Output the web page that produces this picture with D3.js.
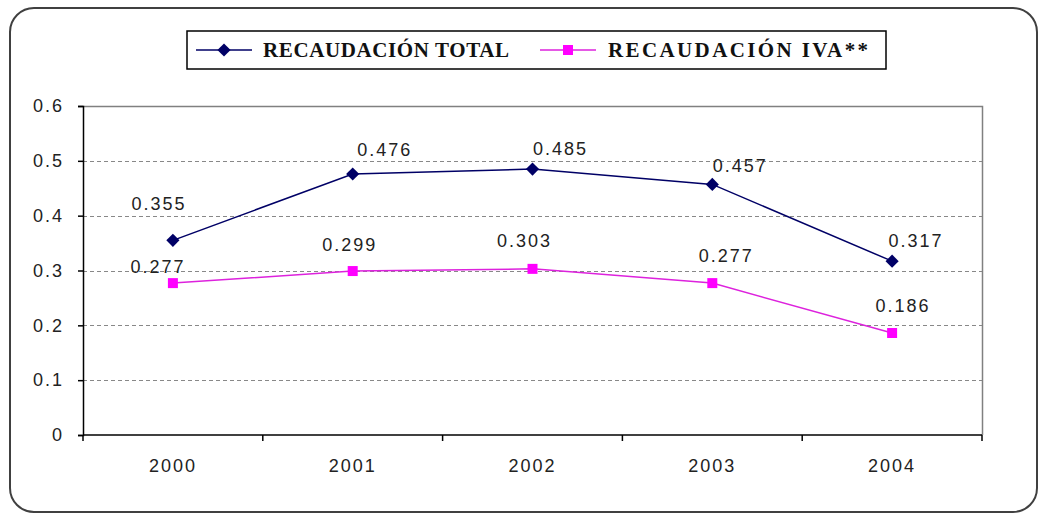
<!DOCTYPE html>
<html>
<head>
<meta charset="utf-8">
<script src="https://cdn.jsdelivr.net/npm/d3@7"></script>
<style>
  body { margin: 0; background: #fff; }
  svg { display: block; }
</style>
</head>
<body>
<div id="chart"></div>
<script>
//Chart data
const YEARS = ["2000", "2001", "2002", "2003", "2004"];
const TOTAL = [0.355, 0.476, 0.485, 0.457, 0.317];
const IVA = [0.277, 0.299, 0.303, 0.277, 0.186];
const Y_TICKS = [0, 0.1, 0.2, 0.3, 0.4, 0.5, 0.6];
const SERIES_NAMES = ["RECAUDACIÓN TOTAL", "RECAUDACIÓN IVA**"];

//Colours
const NAVY = "#000066";
const PINK = "#ff00ff";

//Label nudges (dx, dy) so the values sit where the original put them
const TOTAL_NUDGE = [[-14, -30], [32, -18], [28, -14], [28, -12], [24, -14]];
const IVA_NUDGE = [[-15, -10], [-3, -20], [-8, -22], [14, -21], [11, -21]];

//Shared text style for numbers
const NUM_FONT = "Liberation Sans, Arial, sans-serif";
const NUM_SIZE = 18;
const NUM_SPACING = 2;

const W = 1040, H = 518;
const margin = {left: 83, right: 58, top: 106, bottom: 83};

var svg = d3.select("#chart").append("svg")
	.attr("width", W)
	.attr("height", H);

//Outer rounded frame
svg.append("rect")
	.attr("x", 10).attr("y", 8)
	.attr("width", 1027).attr("height", 504)
	.attr("rx", 24).attr("ry", 24)
	.attr("fill", "none")
	.attr("stroke", "#404040")
	.attr("stroke-width", 2);

var x = d3.scaleBand()
	.domain(YEARS)
	.range([margin.left, W - margin.right]);

var y = d3.scaleLinear()
	.domain([0, 0.6])
	.range([H - margin.bottom, margin.top]);

var cx = function(d, i) { return x(YEARS[i]) + x.bandwidth() / 2; };

//Grid lines
svg.append("g").selectAll("line")
	.data(Y_TICKS.filter(function(t) { return t > 0 && t < 0.6; }))
	.join("line")
	.attr("x1", margin.left).attr("x2", W - margin.right)
	.attr("y1", function(d) { return Math.round(y(d)) + 0.5; })
	.attr("y2", function(d) { return Math.round(y(d)) + 0.5; })
	.attr("stroke", "#888")
	.attr("stroke-dasharray", "4,3");

//Plot area top/right border
svg.append("path")
	.attr("d", "M" + margin.left + "," + (y(0.6) + 0.5) + "H" + (W - margin.right + 0.5) + "V" + y(0))
	.attr("fill", "none")
	.attr("stroke", "#808080")
	.attr("stroke-width", 1.5);

//Y axis
var yAxis = svg.append("g")
	.attr("transform", "translate(" + margin.left + ",0)")
	.call(d3.axisLeft(y).tickValues(Y_TICKS).tickSize(5).tickPadding(14)
		.tickFormat(function(d) { return d === 0 ? "0" : d3.format(".1f")(d); }));
yAxis.select(".domain").attr("stroke", "#000").attr("stroke-width", 1.5);
yAxis.selectAll(".tick line").attr("stroke", "#000").attr("stroke-width", 1.5);
yAxis.selectAll("text")
	.attr("font-family", NUM_FONT)
	.attr("font-size", NUM_SIZE)
	.attr("letter-spacing", NUM_SPACING)
	.attr("fill", "#222");

//X axis, ticks between categories
var xAxis = svg.append("g")
	.attr("transform", "translate(0," + y(0) + ")");
xAxis.append("line")
	.attr("x1", margin.left).attr("x2", W - margin.right)
	.attr("stroke", "#000").attr("stroke-width", 1.5);
xAxis.selectAll(".sep")
	.data(YEARS.concat(["end"]))
	.join("line")
	.attr("class", "sep")
	.attr("x1", function(d, i) { return margin.left + i * x.step(); })
	.attr("x2", function(d, i) { return margin.left + i * x.step(); })
	.attr("y1", 0).attr("y2", 6)
	.attr("stroke", "#000").attr("stroke-width", 1.5);
xAxis.selectAll(".lbl")
	.data(YEARS)
	.join("text")
	.attr("class", "lbl")
	.attr("x", function(d) { return x(d) + x.bandwidth() / 2; })
	.attr("y", 37)
	.attr("text-anchor", "middle")
	.attr("font-family", NUM_FONT)
	.attr("font-size", NUM_SIZE)
	.attr("letter-spacing", NUM_SPACING)
	.attr("fill", "#222")
	.text(function(d) { return d; });

//Lines
var line = d3.line()
	.x(cx)
	.y(function(d) { return y(d); });

svg.append("path").datum(IVA)
	.attr("d", line)
	.attr("fill", "none")
	.attr("stroke", "#dd22dd")
	.attr("stroke-width", 1.5);

svg.append("path").datum(TOTAL)
	.attr("d", line)
	.attr("fill", "none")
	.attr("stroke", NAVY)
	.attr("stroke-width", 1.5);

//Markers
var diamond = d3.symbol().type(d3.symbolDiamond2).size(110);
var square = d3.symbol().type(d3.symbolSquare).size(100);

svg.append("g").selectAll("path")
	.data(IVA).join("path")
	.attr("d", square)
	.attr("transform", function(d, i) { return "translate(" + cx(d, i) + "," + y(d) + ")"; })
	.attr("fill", PINK);

svg.append("g").selectAll("path")
	.data(TOTAL).join("path")
	.attr("d", diamond)
	.attr("transform", function(d, i) { return "translate(" + cx(d, i) + "," + y(d) + ")"; })
	.attr("fill", NAVY);

//Value labels
function addLabels(data, nudge) {
	svg.append("g").selectAll("text")
		.data(data).join("text")
		.attr("x", function(d, i) { return cx(d, i) + nudge[i][0]; })
		.attr("y", function(d, i) { return y(d) + nudge[i][1]; })
		.attr("text-anchor", "middle")
		.attr("font-family", NUM_FONT)
		.attr("font-size", NUM_SIZE)
		.attr("letter-spacing", NUM_SPACING)
		.attr("fill", "#222")
		.text(function(d) { return d3.format(".3f")(d); });
}
addLabels(TOTAL, TOTAL_NUDGE);
addLabels(IVA, IVA_NUDGE);

//Legend
var legend = svg.append("g");
legend.append("rect")
	.attr("x", 187).attr("y", 31)
	.attr("width", 699).attr("height", 38)
	.attr("fill", "#fff")
	.attr("stroke", "#000")
	.attr("stroke-width", 1.5);

var legendItems = [
	{name: SERIES_NAMES[0], color: NAVY, stroke: NAVY, sym: diamond, x0: 196, tx: 263, tw: 246},
	{name: SERIES_NAMES[1], color: PINK, stroke: "#dd22dd", sym: square, x0: 540, tx: 608, tw: 260}
];
legendItems.forEach(function(it) {
	legend.append("line")
		.attr("x1", it.x0).attr("x2", it.x0 + 56)
		.attr("y1", 50).attr("y2", 50)
		.attr("stroke", it.stroke).attr("stroke-width", 1.5);
	legend.append("path")
		.attr("d", it.sym)
		.attr("transform", "translate(" + (it.x0 + 28) + ",50)")
		.attr("fill", it.color);
	legend.append("text")
		.attr("x", it.tx).attr("y", 57)
		.attr("font-family", "Liberation Serif, Times New Roman, serif")
		.attr("font-weight", "bold")
		.attr("font-size", 21)
		.attr("textLength", it.tw)
		.attr("lengthAdjust", "spacing")
		.attr("fill", "#111")
		.text(it.name);
});
</script>
</body>
</html>
